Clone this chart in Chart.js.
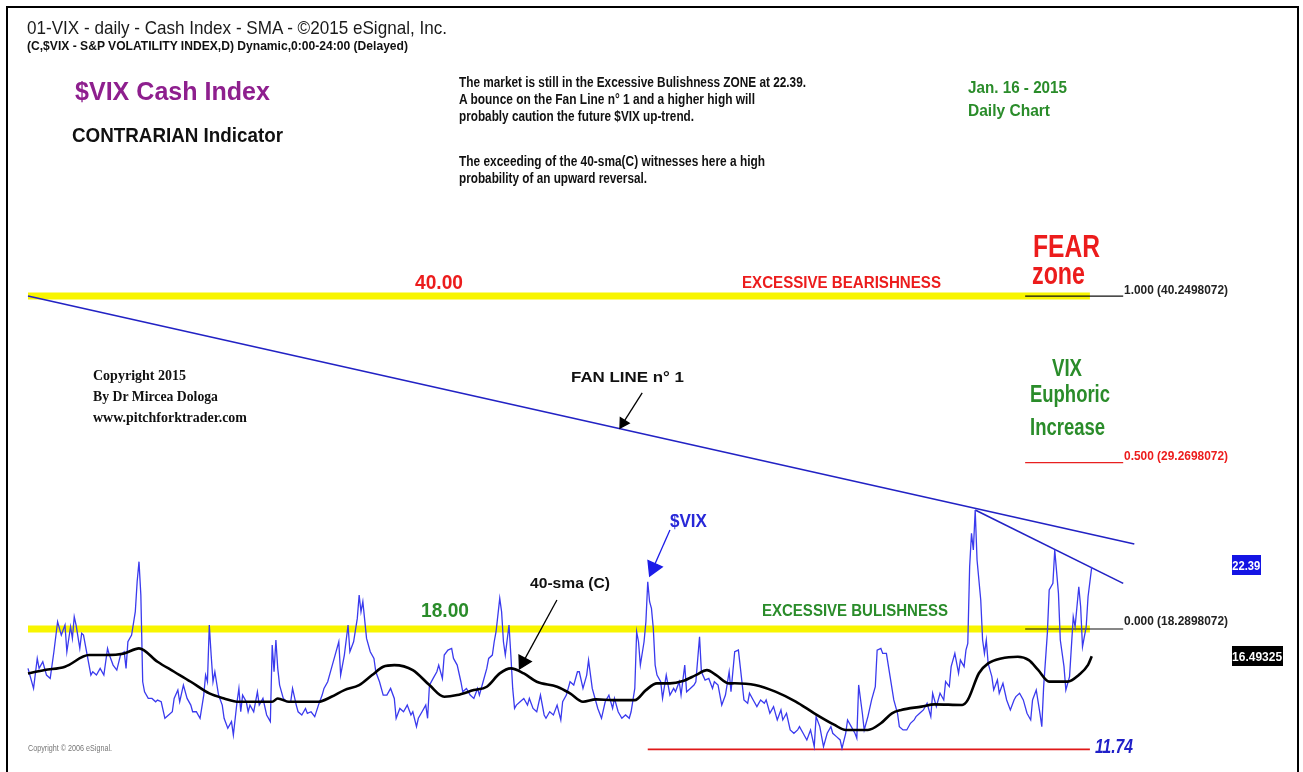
<!DOCTYPE html>
<html>
<head>
<meta charset="utf-8">
<script src="https://cdn.jsdelivr.net/npm/chart.js@4.4.1/dist/chart.umd.min.js"></script>
<style>
  html, body { margin: 0; padding: 0; background: #fff; }
  #wrap { position: relative; width: 1303px; height: 772px; overflow: hidden; background: #fff; }
  #frame { position: absolute; left: 6px; top: 6px; width: 1293px; height: 790px; border: 2px solid #000; box-sizing: border-box; }
  canvas { position: absolute; left: 0; top: 0; }
  .t { position: absolute; white-space: nowrap; line-height: 1; transform-origin: 0 0; }
  .box { position: absolute; color: #fff; display: flex; align-items: center; justify-content: center; overflow: hidden; }
</style>
</head>
<body>
<div id="wrap">
  <canvas id="chart" width="1303" height="772"></canvas>
  <div id="frame"></div>
</div>
<script>
// $VIX daily closes (trading-day number from the first bar)
const vixDays = [0,3,5,6,8,10,12,14,16,17,18,20,21,23,24,25,26,28,29,30,32,34,35,37,39,41,43,44,46,48,50,52,53,54,56,58,59,60,61,62,63,65,67,69,70,72,74,76,78,79,81,82,84,86,88,89,91,93,95,96,97,98,99,100,101,103,105,106,108,110,111,113,114,115,116,118,119,120,122,124,125,127,129,131,132,133,134,135,136,138,140,142,143,145,146,148,150,151,153,155,157,159,160,162,164,166,168,169,171,173,174,176,178,179,180,181,183,185,187,188,190,192,
  194,196,198,199,201,203,205,207,208,210,211,213,215,216,217,219,221,222,224,225,227,229,230,232,234,235,237,239,241,243,244,246,248,249,251,252,253,255,256,257,258,260,261,262,263,264,266,268,270,271,273,275,277,279,280,282,284,286,288,289,291,293,295,297,298,300,302,303,305,307,308,310,312,314,316,317,319,321,323,325,326,328,329,330,331,333,334,335,336,337,338,339,340,342,343,345,347,349,350,352,353,355,356,358,360,361,363,364,366,368,370,371,373,375,377,379,380,382,
  384,385,387,389,390,392,394,396,398,399,401,403,405,407,408,410,412,414,416,417,419,421,423,425,426,428,430,432,434,435,437,439,440,442,443,445,447,448,449,451,452,454,456,458,459,461,462,464,466,468,470,471,473,475,477,479,480,482,484,486,488,489,491,493,495,496,498,499,501,503,504,506,507,508,509,510,511,512,513,515,516,517,518,519,521,522,524,525,527,529,531,533,534,536,538,540,542,543,545,547,548,549,551,552,554,555,557,558,560,561,563,565,566,568,569,570,572,573,575];
const vixValues = [15.69,14.37,16.35,15.69,16.13,15.25,15.03,16.79,18.77,18.33,17.89,18.55,16.79,18.44,17.67,19.10,18.55,17.01,18.00,17.89,16.57,15.25,15.47,15.25,15.69,15.25,17.01,16.57,15.91,15.58,16.57,16.79,15.69,17.45,17.89,19.43,21.41,22.73,20.53,14.81,14.15,13.71,13.71,13.49,13.60,13.49,12.40,12.62,12.83,13.71,14.26,13.49,14.59,13.71,13.27,12.83,12.83,12.40,13.93,15.25,14.81,18.55,16.57,14.81,15.47,13.93,13.27,12.40,11.74,12.18,11.30,13.49,14.37,12.83,13.93,13.49,12.83,13.27,12.83,14.15,13.27,13.71,12.62,12.18,17.23,15.47,17.56,15.69,14.59,13.71,13.49,13.49,14.37,13.27,12.83,12.62,13.05,12.72,12.83,12.51,13.27,13.93,14.37,14.81,15.69,16.57,17.45,15.25,16.57,18.55,16.79,17.45,18.99,20.53,19.43,20.09,17.67,16.79,16.35,15.47,14.81,13.93,
  13.93,14.37,13.71,12.40,13.05,12.83,13.27,12.62,12.83,11.85,12.40,12.83,13.27,12.40,14.59,15.03,15.47,15.91,15.03,16.57,16.90,17.01,16.35,15.91,14.81,14.15,14.37,13.93,13.71,14.37,13.93,14.81,15.69,16.35,16.57,17.45,18.11,20.31,19.43,17.45,16.57,18.55,16.57,14.37,13.05,13.27,13.49,13.71,13.27,13.71,13.05,12.83,13.93,12.62,12.40,12.83,12.62,13.27,12.29,13.49,13.93,14.81,14.59,15.47,15.47,14.37,15.25,16.24,14.37,13.49,13.05,12.40,13.49,13.93,13.05,13.71,12.83,12.40,12.62,12.40,12.83,14.37,18.11,17.45,15.91,17.45,18.77,21.41,20.09,19.65,18.33,15.91,15.25,14.81,13.71,15.25,13.93,14.37,14.15,14.81,13.93,15.91,14.15,14.37,14.59,14.81,17.78,15.47,14.92,15.03,14.37,14.81,14.59,13.27,13.93,15.47,14.15,16.79,
  16.90,15.81,13.61,13.39,14.05,13.61,13.17,13.61,13.39,13.61,12.73,13.17,12.29,12.95,12.29,12.73,11.63,11.41,11.63,11.85,11.41,10.97,11.63,10.53,12.51,11.85,10.53,11.41,11.85,11.41,11.19,10.97,10.42,11.41,12.29,11.85,11.41,11.08,14.60,12.73,11.63,12.51,13.61,14.49,16.90,17.01,16.68,16.68,15.15,13.61,12.73,11.85,11.63,11.63,12.07,12.29,12.51,12.73,12.95,13.39,12.51,14.05,13.17,14.05,13.61,14.82,14.49,15.81,16.68,15.37,16.24,15.81,16.90,17.34,22.40,24.60,23.50,26.14,22.84,20.20,17.56,16.68,17.56,16.02,15.15,14.27,14.93,14.05,14.71,13.61,12.95,13.61,13.83,14.05,13.61,12.73,12.29,13.61,14.27,12.73,11.85,14.49,18.00,20.86,21.30,23.50,20.64,17.56,15.81,14.27,15.15,19.10,18.44,21.08,19.76,17.12,18.44,20.42,22.39];

// 40-day simple moving average
const smaDays = [0,9,20,33,42,52,60,70,79,88,98,106,114,124,132,135,141,148,157,164,171,179,186,192,198,208,217,225,232,241,248,255,261,268,275,286,293,300,307,316,328,334,340,347,354,361,367,372,379,382,393,404,415,425,436,442,454,461,467,472,483,490,505,508,514,519,526,535,541,546,552,557,562,568,573,575];
const smaValues = [15.36,15.58,15.80,16.57,16.57,16.68,17.01,16.13,15.47,14.81,14.04,13.71,13.49,13.49,13.49,13.71,13.49,13.49,13.49,13.82,14.26,14.59,15.25,15.80,15.91,15.58,14.59,13.82,13.93,14.26,14.48,15.36,15.69,15.36,14.81,14.48,14.04,13.49,13.65,13.60,13.60,14.26,14.70,14.70,14.86,15.25,15.58,15.25,14.70,14.71,14.60,14.16,13.50,12.73,11.96,11.63,11.63,12.07,12.73,12.95,13.17,13.32,13.28,13.61,15.37,16.02,16.35,16.46,16.24,15.59,14.82,14.82,14.82,15.26,15.92,16.49];

// zone levels and fan lines drawn on the chart
const zoneDays = [0, 574];
const fearLevel = 40.2498072;
const halfLevel = 29.2698072;
const bullLevel = 18.2898072;
const fibDays = [539, 592];
const lowDays = [335, 574];
const lowLevel = 10.35;
const fan1Days = [0, 598];
const fan1Values = [40.25, 23.9];
const fan2Days = [512, 592];
const fan2Values = [26.14, 21.3];

// pointer arrows: [tail, head]
const fanArrowDays = [332, 321.7];
const fanArrowValues = [33.86, 31.88];
const vixArrowDays = [347, 338];
const vixArrowValues = [24.82, 22.33];
const smaArrowDays = [285.9, 267.7];
const smaArrowValues = [20.2, 16.12];

const pts = (xs, ys) => xs.map((d, i) => ({ x: d, y: Array.isArray(ys) ? ys[i] : ys }));

function flatLine(days, level, color, width, order) {
  return { data: pts(days, level), borderColor: color, borderWidth: width, pointRadius: 0, order: order };
}

function arrow(days, vals, color, size, angle) {
  return {
    data: pts(days, vals),
    borderColor: color,
    borderWidth: 1.3,
    pointRadius: [0, size],
    pointStyle: 'triangle',
    rotation: angle,
    pointBackgroundColor: color,
    pointBorderColor: color,
    order: 1
  };
}

new Chart(document.getElementById('chart'), {
  type: 'line',
  data: {
    datasets: [
      flatLine(zoneDays, fearLevel, '#f8f500', 7, 9),
      flatLine(zoneDays, bullLevel, '#f8f500', 7, 9),
      flatLine(fibDays, fearLevel, '#111', 1.2, 5),
      flatLine(fibDays, halfLevel, '#e82020', 1.2, 5),
      flatLine(fibDays, bullLevel, '#111', 1.2, 5),
      flatLine(lowDays, lowLevel, '#e01818', 1.6, 5),
      { data: pts(fan1Days, fan1Values), borderColor: '#2222c4', borderWidth: 1.6, pointRadius: 0, order: 4 },
      { data: pts(fan2Days, fan2Values), borderColor: '#2222c4', borderWidth: 1.6, pointRadius: 0, order: 4 },
      { data: pts(vixDays, vixValues), borderColor: '#3a3aee', borderWidth: 1.3, pointRadius: 0, order: 3 },
      { data: pts(smaDays, smaValues), borderColor: '#000', borderWidth: 2.6, pointRadius: 0, cubicInterpolationMode: 'monotone', order: 2 },
      arrow(fanArrowDays, fanArrowValues, '#000', 6, 212),
      arrow(vixArrowDays, vixArrowValues, '#1c1ce8', 9, 204),
      arrow(smaArrowDays, smaArrowValues, '#000', 8, 208)
    ]
  },
  options: {
    responsive: false,
    animation: false,
    events: [],
    layout: { padding: 0, autoPadding: false },
    plugins: { legend: { display: false }, tooltip: { enabled: false } },
    scales: {
      x: { type: 'linear', display: false, min: -15.135, max: 689.19 },
      y: { type: 'linear', display: false, min: 8.857, max: 59.78 }
    }
  }
});

// annotations: text, left, baseline, font size, target width, colour, style
const GREEN = '#2a8c2a', RED = '#ec1c1c';
const notes = [
  ["01-VIX - daily - Cash Index - SMA - ©2015 eSignal, Inc.", 27, 34, 19, 420, '#1a1a1a', 'n'],
  ["(C,$VIX - S&P VOLATILITY INDEX,D) Dynamic,0:00-24:00 (Delayed)", 27, 50, 12, 381, '#111', 'b'],
  ["$VIX Cash Index", 75, 100, 25, 195, '#8e1f8e', 'b'],
  ["CONTRARIAN Indicator", 72, 142, 21, 211, '#111', 'b'],
  ["The market is still in the Excessive Bulishness ZONE at 22.39.", 459, 87, 15, 347, '#111', 'b'],
  ["A bounce on the Fan Line n° 1 and a higher high will", 459, 104, 15, 296, '#111', 'b'],
  ["probably caution the future $VIX up-trend.", 459, 121, 15, 235, '#111', 'b'],
  ["The exceeding of the 40-sma(C) witnesses here a high", 459, 166, 15, 306, '#111', 'b'],
  ["probability of an upward reversal.", 459, 183, 15, 188, '#111', 'b'],
  ["Jan. 16 - 2015", 968, 93, 17, 99, GREEN, 'b'],
  ["Daily Chart", 968, 116, 17, 82, GREEN, 'b'],
  ["FEAR", 1033, 257, 31, 67, RED, 'b'],
  ["zone", 1032, 284, 31, 53, RED, 'b'],
  ["1.000 (40.2498072)", 1124, 294, 13, 104, '#222', 'b'],
  ["VIX", 1052, 377, 23, 30, GREEN, 'b'],
  ["Euphoric", 1030, 403, 23, 80, GREEN, 'b'],
  ["Increase", 1030, 436, 23, 75, GREEN, 'b'],
  ["0.500 (29.2698072)", 1124, 460, 13, 104, RED, 'b'],
  ["0.000 (18.2898072)", 1124, 625, 13, 104, '#222', 'b'],
  ["40.00", 415, 289, 21, 48, RED, 'b'],
  ["EXCESSIVE BEARISHNESS", 742, 289, 16, 199, RED, 'b'],
  ["Copyright 2015", 93, 381, 15, 93, '#111', 's'],
  ["By Dr Mircea Dologa", 93, 402, 15, 125, '#111', 's'],
  ["www.pitchforktrader.com", 93, 423, 15, 154, '#111', 's'],
  ["FAN LINE n° 1", 571, 382, 15, 113, '#111', 'b'],
  ["$VIX", 670, 527, 18, 37, '#2828d8', 'b'],
  ["40-sma (C)", 530, 588, 15, 80, '#111', 'b'],
  ["18.00", 421, 617, 21, 48, GREEN, 'b'],
  ["EXCESSIVE BULISHNESS", 762, 617, 16, 186, GREEN, 'b'],
  ["11.74", 1095, 753, 21, 38, '#2020c8', 'bi'],
  ["Copyright © 2006 eSignal.", 28, 752, 9, 84, '#777', 'n']
];

const wrap = document.getElementById('wrap');
const SANS = '"Liberation Sans Narrow", "Liberation Sans", Arial, sans-serif';
notes.forEach(([text, x, base, fs, w, color, style]) => {
  const el = document.createElement('div');
  el.className = 't';
  el.textContent = text;
  el.style.fontFamily = style === 's' ? '"Liberation Serif", "Times New Roman", serif' : SANS;
  el.style.fontWeight = style === 'n' ? 'normal' : 'bold';
  if (style === 'bi') el.style.fontStyle = 'italic';
  el.style.fontSize = fs + 'px';
  el.style.color = color;
  el.style.left = x + 'px';
  el.style.top = (base - fs * (style === 's' ? 0.84 : 0.85)) + 'px';
  wrap.appendChild(el);
  const real = el.getBoundingClientRect().width;
  if (real > 0) el.style.transform = 'scaleX(' + (w / real) + ')';
});

// last-value tags on the right
const tags = [
  ["22.39", 1232, 555, 29, 20, '#1414e4'],
  ["16.49325", 1232, 646, 51, 20, '#000']
];
tags.forEach(([text, x, y, w, h, bg]) => {
  const box = document.createElement('div');
  box.className = 'box';
  Object.assign(box.style, { left: x + 'px', top: y + 'px', width: w + 'px', height: h + 'px', background: bg });
  const span = document.createElement('span');
  span.textContent = text;
  Object.assign(span.style, { fontFamily: SANS, fontWeight: 'bold', fontSize: '13px', whiteSpace: 'nowrap', display: 'inline-block' });
  box.appendChild(span);
  wrap.appendChild(box);
  const real = span.getBoundingClientRect().width;
  if (real > 0) span.style.transform = 'scaleX(' + ((w - 1) / real) + ')';
});
</script>
</body>
</html>
